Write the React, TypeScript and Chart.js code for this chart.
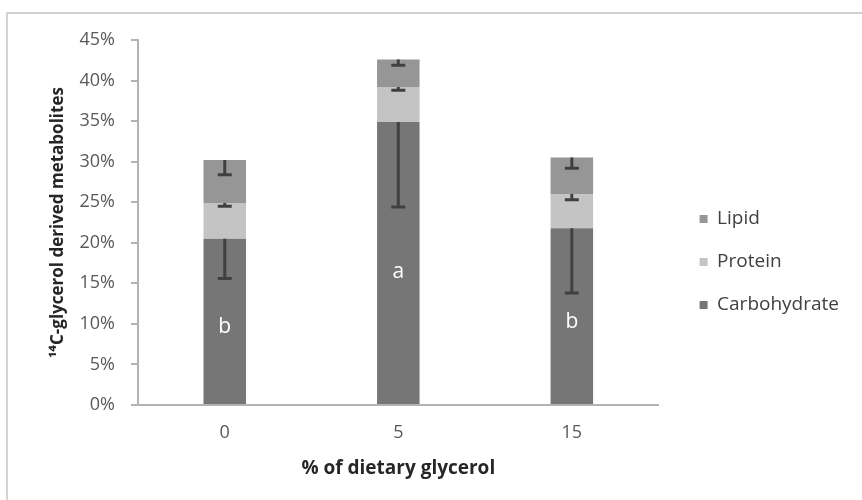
import React, { useEffect, useRef } from "react";
import { Chart, registerables } from "chart.js";

Chart.register(...registerables);

// ---- data ----
const categories = ["0", "5", "15"];
const carbohydrate = [20.5, 34.9, 21.8];
const protein = [4.4, 4.3, 4.2];
const lipid = [5.3, 3.4, 4.5];
const carbohydrateErr = [4.9, 10.5, 8.0];
const proteinErr = [0.4, 0.4, 0.7];
const lipidErr = [1.8, 0.7, 1.3];
const letters = ["b", "a", "b"];

const FONT = "'Open Sans', 'DejaVu Sans', sans-serif";

export default function App() {
  const ref = useRef<HTMLCanvasElement | null>(null);

  useEffect(() => {
    if (!ref.current) return;
    Chart.defaults.font.family = FONT;

    const errPlugin = {
      id: "errorBarsAndLetters",
      afterDatasetsDraw(chart: any) {
        const ctx = chart.ctx;
        const y = chart.scales.y;
        const errs = [carbohydrateErr, proteinErr, lipidErr];
        ctx.save();
        ctx.strokeStyle = "#404040";
        ctx.lineWidth = 3;
        chart.data.datasets.forEach((ds: any, i: number) => {
          const meta = chart.getDatasetMeta(i);
          meta.data.forEach((el: any, j: number) => {
            let cum = 0;
            for (let k = 0; k <= i; k++) cum += chart.data.datasets[k].data[j];
            const y0 = y.getPixelForValue(cum);
            const y1 = y.getPixelForValue(cum - errs[i][j]);
            ctx.beginPath();
            ctx.moveTo(el.x, y0);
            ctx.lineTo(el.x, y1);
            ctx.moveTo(el.x - 7, y1);
            ctx.lineTo(el.x + 7, y1);
            ctx.stroke();
          });
        });
        ctx.fillStyle = "#ffffff";
        ctx.font = `21px ${FONT}`;
        ctx.textAlign = "center";
        ctx.textBaseline = "middle";
        const m0 = chart.getDatasetMeta(0);
        m0.data.forEach((el: any, j: number) => {
          ctx.fillText(letters[j], el.x, y.getPixelForValue(carbohydrate[j] * 0.47));
        });
        ctx.restore();
      },
    };

    // leave a gap between the plot area and the legend
    const legendShift = {
      id: "legendShift",
      afterLayout(chart: any) {
        const lg = chart.legend;
        if (lg) {
          lg.left += 17;
          lg.right += 17;
        }
      },
    };

    const axisColor = "#b3b3b3";
    const chart = new Chart(ref.current, {
      type: "bar",
      data: {
        labels: categories,
        datasets: [
          { label: "Carbohydrate", data: carbohydrate, backgroundColor: "#767676", barPercentage: 0.245, categoryPercentage: 1 },
          { label: "Protein", data: protein, backgroundColor: "#c4c4c4", barPercentage: 0.245, categoryPercentage: 1 },
          { label: "Lipid", data: lipid, backgroundColor: "#969696", barPercentage: 0.245, categoryPercentage: 1 },
        ],
      },
      options: {
        responsive: false,
        animation: false,
        layout: { padding: { left: 48, right: 30, top: 40, bottom: 16 } },
        plugins: {
          legend: {
            position: "right",
            reverse: true,
            labels: {
              boxWidth: 8,
              boxHeight: 8,
              padding: 24,
              color: "#404040",
              font: { size: 19 },
            },
          },
          tooltip: { enabled: false },
        },
        scales: {
          x: {
            stacked: true,
            grid: { display: true, drawOnChartArea: false, drawTicks: false },
            border: { color: axisColor, width: 2 },
            ticks: { padding: 17, color: "#595959", font: { size: 18 } },
            title: {
              display: true,
              text: "% of dietary glycerol",
              color: "#262626",
              font: { size: 19, weight: "bold" },
              padding: { top: 0, bottom: 4 },
            },
            afterFit: (s: any) => {
              s.height = 79;
            },
          },
          y: {
            stacked: true,
            min: 0,
            max: 45,
            ticks: {
              stepSize: 5,
              padding: 16,
              color: "#595959",
              font: { size: 18 },
              callback: (v: any) => v + "%",
            },
            grid: { drawOnChartArea: false, drawTicks: true, tickLength: 7, color: axisColor, lineWidth: 2 },
            border: { color: axisColor, width: 2 },
            title: {
              display: true,
              text: "¹⁴C-glycerol derived metabolites",
              color: "#262626",
              font: { size: 17, weight: "bold" },
              padding: { top: 0, bottom: 0 },
            },
            afterFit: (s: any) => {
              s.width = 90;
            },
          },
        },
      } as any,
      plugins: [errPlugin, legendShift],
    });
    return () => chart.destroy();
  }, []);

  return (
    <div style={{ position: "fixed", left: 0, top: 0, width: 862, height: 500, overflow: "hidden", background: "#fff" }}>
      <div
        style={{
          position: "absolute",
          left: 6,
          top: 12,
          width: 1000,
          height: 1000,
          borderLeft: "2px solid #d2d2d2",
          borderTop: "2px solid #d2d2d2",
        }}
      />
      <canvas ref={ref} width={862} height={500} style={{ position: "absolute", left: 0, top: 0, width: 862, height: 500 }} />
    </div>
  );
}
